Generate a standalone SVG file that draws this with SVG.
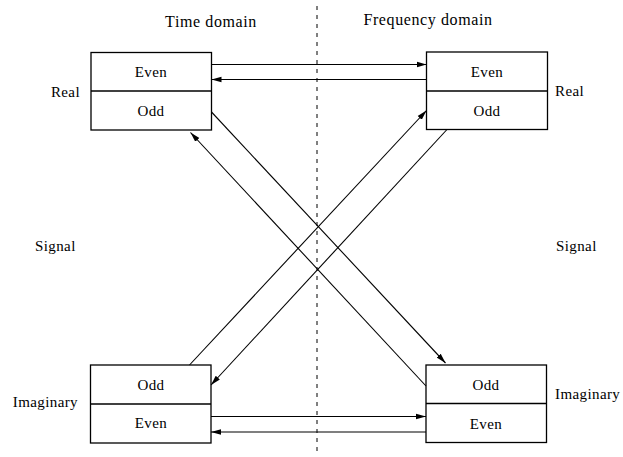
<svg xmlns="http://www.w3.org/2000/svg" width="623" height="457" viewBox="0 0 623 457">
<defs>
<style>
.box{fill:none;stroke:#000;stroke-width:1.3}
.div{stroke:#000;stroke-width:1.3}
.t{font-family:"Liberation Serif","Times New Roman",serif;font-size:15px;fill:#000;letter-spacing:0.4px}
.h{font-size:16px;letter-spacing:0.6px}
.c{text-anchor:middle}
.e{text-anchor:end}
.ln{fill:none;stroke:#000;stroke-width:1.1;marker-end:url(#ah)}
.dash{stroke:#000;stroke-width:1;stroke-dasharray:4 5}
</style>
<marker id="ah" markerUnits="userSpaceOnUse" markerWidth="12" markerHeight="8" refX="10" refY="4" orient="auto">
<path d="M0,1.2 L10,4 L0,6.8 Z" fill="#000"/>
</marker>
</defs>
<rect width="623" height="457" fill="#fff"/>
<line class="dash" x1="317" y1="6" x2="317" y2="455"/>
<text class="t h c" x="211" y="27">Time domain</text>
<text class="t h c" x="428" y="25">Frequency domain</text>
<text class="t e" x="80" y="97">Real</text>
<text class="t" x="555" y="96">Real</text>
<text class="t" x="35" y="251">Signal</text>
<text class="t" x="556" y="251">Signal</text>
<text class="t e" x="78" y="407">Imaginary</text>
<text class="t" x="555" y="399">Imaginary</text>
<g id="time-real">
<rect class="box" x="91" y="52.5" width="120.5" height="77.5"/>
<line class="div" x1="91" y1="91" x2="211.5" y2="91"/>
<text class="t c" x="151" y="77">Even</text>
<text class="t c" x="151" y="116">Odd</text>
</g>
<g id="freq-real">
<rect class="box" x="426.5" y="52" width="121" height="77.5"/>
<line class="div" x1="426.5" y1="91" x2="547.5" y2="91"/>
<text class="t c" x="487" y="77">Even</text>
<text class="t c" x="487" y="116">Odd</text>
</g>
<g id="time-imag">
<rect class="box" x="90.5" y="365" width="120.5" height="78"/>
<line class="div" x1="90.5" y1="404" x2="211" y2="404"/>
<text class="t c" x="151" y="390">Odd</text>
<text class="t c" x="151" y="428">Even</text>
</g>
<g id="freq-imag">
<rect class="box" x="426" y="365" width="120.5" height="77.5"/>
<line class="div" x1="426" y1="403.5" x2="546.5" y2="403.5"/>
<text class="t c" x="486" y="390">Odd</text>
<text class="t c" x="486" y="429">Even</text>
</g>
<g id="connectors">
<line class="ln" x1="211.5" y1="64.5" x2="426.5" y2="64.5"/>
<line class="ln" x1="426.5" y1="79.5" x2="211.5" y2="79.5"/>
<line class="ln" x1="211" y1="416.5" x2="426" y2="416.5"/>
<line class="ln" x1="426" y1="432" x2="211" y2="432"/>
<line class="ln" x1="211.5" y1="112" x2="445.5" y2="363"/>
<line class="ln" x1="426" y1="386" x2="190.5" y2="132.5"/>
<line class="ln" x1="189.5" y1="365" x2="426.5" y2="110.5"/>
<line class="ln" x1="447" y1="129.5" x2="211" y2="385"/>
</g>
</svg>
